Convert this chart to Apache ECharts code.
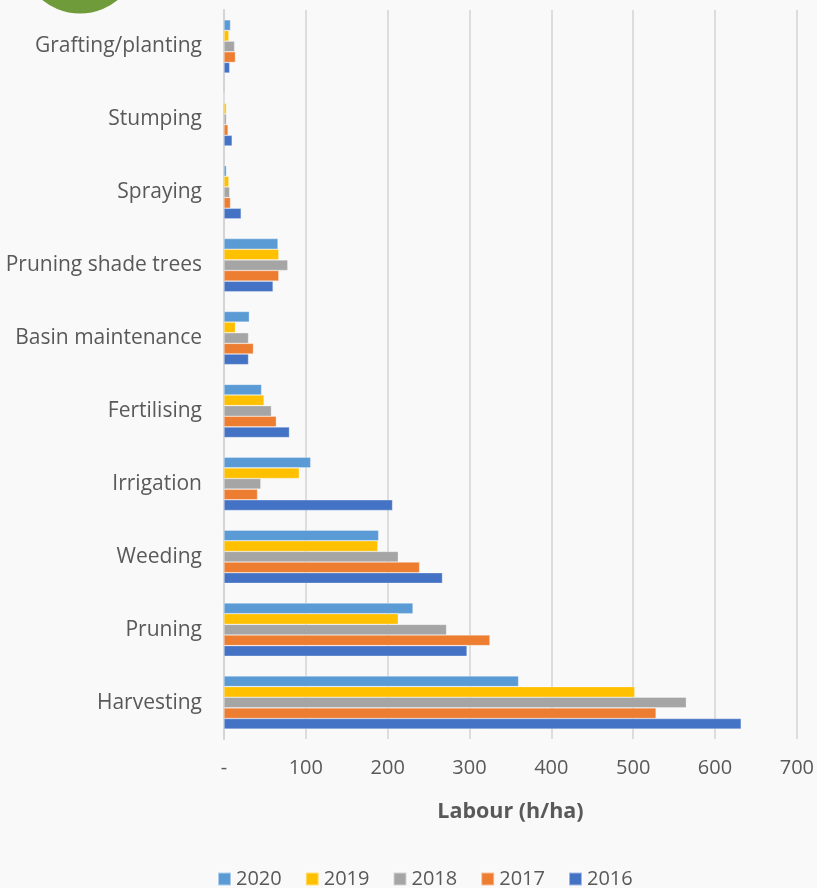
<!DOCTYPE html>
<html>
<head>
<meta charset="utf-8">
<script src="https://cdn.jsdelivr.net/npm/echarts@6/dist/echarts.min.js"></script>
<style>
  html, body { margin: 0; padding: 0; background: #f9f9f9; }
  #chart { width: 817px; height: 888px; }
</style>
</head>
<body>
<div id="chart"></div>
<script>
var TEXT_COLOR = '#595959'
var GRID_COLOR = '#dddddd'

var activities = ['Grafting/planting', 'Stumping', 'Spraying', 'Pruning shade trees', 'Basin maintenance',
  'Fertilising', 'Irrigation', 'Weeding', 'Pruning', 'Harvesting']
var years = ['2020', '2019', '2018', '2017', '2016']
var yearColors = ['#5b9bd5', '#ffc000', '#a5a5a5', '#ed7d31', '#4472c4']

var labour2020 = [8, 0, 3, 66, 31, 46, 106, 189, 231, 360]
var labour2019 = [6, 3, 6, 67, 14, 49, 92, 188, 213, 502]
var labour2018 = [13, 3, 7, 78, 30, 58, 45, 213, 272, 565]
var labour2017 = [14, 5, 8, 67, 36, 64, 41, 239, 325, 528]
var labour2016 = [7, 10, 21, 60, 30, 80, 206, 267, 297, 632]
var labourByYear = [labour2020, labour2019, labour2018, labour2017, labour2016]

var xTicks = [0, 100, 200, 300, 400, 500, 600, 700]

var chart = echarts.init(document.getElementById('chart'))

chart.setOption({
  backgroundColor: '#f9f9f9',
  textStyle: { fontFamily: 'Open Sans', color: TEXT_COLOR },
  grid: { left: 224, right: 19, top: 10, bottom: 149 },
  legend: {
    left: 212,
    top: 864,
    itemWidth: 13,
    itemHeight: 13,
    itemGap: 23,
    icon: 'rect',
    data: years,
    textStyle: { fontSize: 20, color: TEXT_COLOR }
  },
  xAxis: {
    type: 'value',
    min: 0,
    max: 700,
    interval: 100,
    name: 'Labour (h/ha)',
    nameLocation: 'middle',
    nameGap: 62,
    nameTextStyle: { fontSize: 21.5, fontWeight: 'bold', color: TEXT_COLOR },
    axisLine: { show: false },
    axisTick: { show: false },
    axisLabel: {
      fontSize: 20,
      color: TEXT_COLOR,
      margin: 19,
      formatter: function (v) { return v === xTicks[0] ? '-' : String(v) }
    },
    splitLine: { lineStyle: { color: GRID_COLOR, width: 2 } }
  },
  yAxis: {
    type: 'category',
    inverse: true,
    data: activities,
    axisLine: { show: true, lineStyle: { color: '#d4d4d4', width: 2 } },
    axisTick: { show: false },
    axisLabel: { fontSize: 21, color: TEXT_COLOR, margin: 22 }
  },
  graphic: [{
    type: 'circle',
    shape: { cx: 80, cy: -46, r: 59.5 },
    style: { fill: '#6f9b3a' }
  }],
  series: years.map(function (year, i) {
    return {
      name: year,
      type: 'bar',
      data: labourByYear[i],
      barGap: '0%',
      barCategoryGap: '27%',
      itemStyle: { color: yearColors[i], borderColor: 'rgba(255,255,255,0.5)', borderWidth: 0.6 }
    }
  })
})
</script>
</body>
</html>
